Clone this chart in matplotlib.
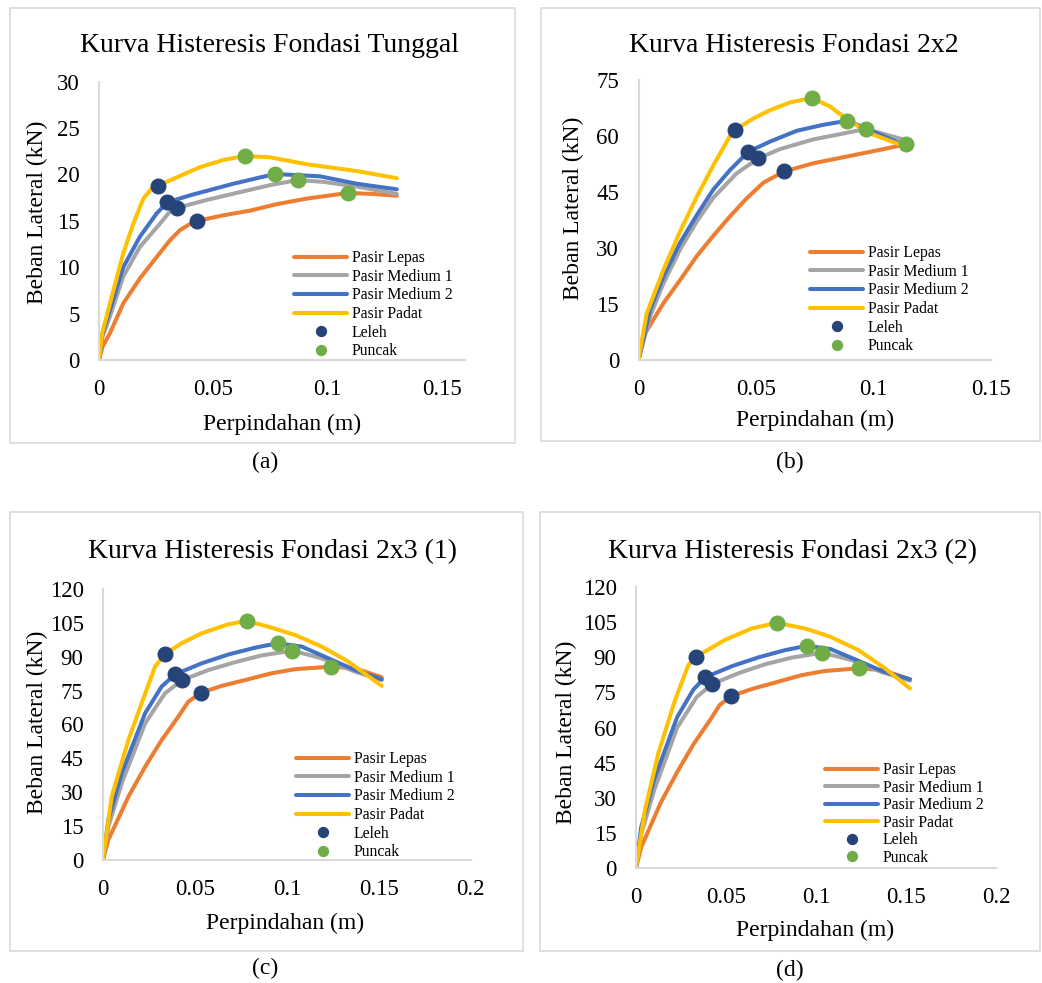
import matplotlib
matplotlib.use("Agg")
import matplotlib.pyplot as plt
from matplotlib.patches import Rectangle

plt.rcParams['font.family'] = ['Liberation Serif', 'DejaVu Serif']

W, H = 1042, 983

series_names = ["Pasir Lepas", "Pasir Medium 1", "Pasir Medium 2", "Pasir Padat"]
marker_names = ["Leleh", "Puncak"]
titles = ["Kurva Histeresis Fondasi Tunggal", "Kurva Histeresis Fondasi 2x2",
          "Kurva Histeresis Fondasi 2x3 (1)", "Kurva Histeresis Fondasi 2x3 (2)"]
captions = ["(a)", "(b)", "(c)", "(d)"]
xlabel = "Perpindahan (m)"
ylabel = "Beban Lateral (kN)"

# ---------- Panel (a) ----------
a_lepas_x = [0, 0.0015, 0.0048, 0.0106, 0.0179, 0.0252, 0.031, 0.0354, 0.0398, 0.043,
             0.0544, 0.066, 0.0777, 0.0908, 0.1087, 0.120, 0.1302]
a_lepas_y = [0, 1.4, 2.9, 6.1, 8.8, 11.1, 12.9, 14.0, 14.66, 15.0,
             15.6, 16.1, 16.8, 17.4, 18.0, 17.9, 17.7]
a_med1_x = [0, 0.0015, 0.0048, 0.0106, 0.0179, 0.0267, 0.031, 0.0342, 0.0471, 0.0617,
            0.0748, 0.0869, 0.0981, 0.1127, 0.1302]
a_med1_y = [0, 2.5, 4.7, 9.0, 12.2, 14.7, 16.0, 16.4, 17.25, 18.1,
            18.85, 19.4, 19.2, 18.7, 17.9]
a_med2_x = [0, 0.0015, 0.0048, 0.0106, 0.0179, 0.0252, 0.0299, 0.0398, 0.0587, 0.069,
            0.077, 0.0966, 0.1127, 0.1302]
a_med2_y = [0, 2.8, 5.4, 10.0, 13.3, 15.8, 17.0, 17.75, 19.0, 19.6,
            20.05, 19.8, 19.0, 18.4]
a_padat_x = [0, 0.0015, 0.0048, 0.0106, 0.015, 0.0194, 0.023, 0.0259, 0.0442, 0.0544,
             0.0638, 0.0748, 0.0908, 0.1127, 0.1302]
a_padat_y = [0, 3.0, 6.1, 11.5, 14.7, 17.4, 18.5, 18.8, 20.8, 21.56,
             22.0, 21.85, 21.1, 20.37, 19.6]
a_leleh_x = [0.043, 0.0342, 0.0299, 0.0259]
a_leleh_y = [15.0, 16.4, 17.0, 18.8]
a_puncak_x = [0.1087, 0.0869, 0.077, 0.0638]
a_puncak_y = [18.0, 19.4, 20.05, 22.0]
a_xticks = [0, 0.05, 0.1, 0.15]
a_xticklabels = ["0", "0.05", "0.1", "0.15"]
a_yticks = [0, 5, 10, 15, 20, 25, 30]

# ---------- Panel (b) ----------
b_lepas_x = [0, 0.002, 0.0106, 0.0177, 0.0248, 0.0319, 0.039, 0.0461, 0.0532, 0.062,
             0.0745, 0.0887, 0.1029, 0.114]
b_lepas_y = [0, 6.3, 15.2, 21.4, 27.8, 33.3, 38.5, 43.3, 47.5, 50.5,
             52.7, 54.5, 56.3, 57.8]
b_med1_x = [0, 0.0049, 0.0106, 0.0177, 0.0248, 0.0319, 0.0418, 0.051, 0.0603, 0.0745,
            0.0859, 0.0969, 0.1058, 0.1148]
b_med1_y = [0, 11.6, 20.5, 29.6, 37.1, 43.5, 50.0, 54.0, 56.5, 59.1,
            60.5, 61.9, 60.3, 58.7]
b_med2_x = [0, 0.0049, 0.0106, 0.0177, 0.0248, 0.0319, 0.039, 0.0468, 0.056, 0.0674,
            0.0787, 0.089, 0.0986, 0.1125]
b_med2_y = [0, 13.4, 22.3, 31.4, 38.8, 45.7, 50.9, 55.8, 58.5, 61.4,
            63.0, 64.1, 61.6, 57.7]
b_padat_x = [0, 0.0035, 0.0106, 0.0177, 0.0248, 0.0319, 0.039, 0.0411, 0.0489, 0.056,
             0.0646, 0.0738, 0.0816, 0.0887, 0.0986, 0.1118]
b_padat_y = [0, 12.5, 24.1, 34.4, 43.7, 52.2, 60.0, 61.6, 64.7, 66.9,
             69.0, 70.2, 67.9, 64.5, 60.7, 57.6]
b_leleh_x = [0.062, 0.051, 0.0468, 0.0411]
b_leleh_y = [50.5, 54.0, 55.8, 61.6]
b_puncak_x = [0.114, 0.0969, 0.089, 0.0738]
b_puncak_y = [57.8, 61.9, 64.1, 70.2]
b_xticks = [0, 0.05, 0.1, 0.15]
b_xticklabels = ["0", "0.05", "0.1", "0.15"]
b_yticks = [0, 15, 30, 45, 60, 75]

# ---------- Panel (c) ----------
c_lepas_x = [0, 0.0029, 0.0138, 0.0229, 0.0319, 0.041, 0.0464, 0.0533, 0.0646, 0.0773,
             0.0918, 0.1045, 0.124, 0.1371, 0.1516]
c_lepas_y = [0, 8.9, 28.0, 41.3, 53.1, 63.5, 70.1, 74.1, 77.1, 79.7,
             82.7, 84.5, 85.6, 84.9, 80.9]
c_med1_x = [0, 0.0029, 0.0102, 0.0229, 0.0337, 0.0431, 0.0573, 0.0718, 0.0863, 0.103,
            0.119, 0.1371, 0.1516]
c_med1_y = [0, 14.7, 34.0, 60.5, 73.8, 79.7, 84.1, 87.6, 90.6, 92.7,
            89.3, 83.4, 79.7]
c_med2_x = [0, 0.0029, 0.0102, 0.0229, 0.0319, 0.0392, 0.0537, 0.0682, 0.0827, 0.095,
            0.1081, 0.1226, 0.1371, 0.1516]
c_med2_y = [0, 17.7, 38.4, 65.0, 76.8, 82.2, 87.1, 91.0, 94.0, 96.0,
            94.5, 89.3, 84.1, 80.0]
c_padat_x = [0, 0.0047, 0.0138, 0.021, 0.0283, 0.0337, 0.0428, 0.0537, 0.0682, 0.0782,
             0.09, 0.1045, 0.119, 0.1335, 0.1516]
c_padat_y = [0, 28.0, 53.1, 69.4, 85.6, 91.2, 96.0, 100.4, 104.4, 105.8,
             103.3, 99.6, 94.5, 87.8, 77.1]
c_leleh_x = [0.0533, 0.0431, 0.0392, 0.0337]
c_leleh_y = [74.1, 79.7, 82.2, 91.2]
c_puncak_x = [0.124, 0.103, 0.095, 0.0782]
c_puncak_y = [85.6, 92.7, 96.0, 105.8]
c_xticks = [0, 0.05, 0.1, 0.15, 0.2]
c_xticklabels = ["0", "0.05", "0.1", "0.15", "0.2"]
c_yticks = [0, 15, 30, 45, 60, 75, 90, 105, 120]

# ---------- Panel (d) ----------
d_lepas_x = [0, 0.0029, 0.0138, 0.0229, 0.0319, 0.041, 0.0464, 0.0528, 0.0646, 0.0773,
             0.0918, 0.1045, 0.124, 0.1371, 0.1522]
d_lepas_y = [0, 8.9, 28.0, 41.0, 52.8, 63.0, 69.5, 73.4, 76.5, 79.2,
             82.3, 84.1, 85.3, 84.5, 80.6]
d_med1_x = [0, 0.0029, 0.0102, 0.0229, 0.0337, 0.0424, 0.0573, 0.0718, 0.0863, 0.1032,
            0.119, 0.1371, 0.1522]
d_med1_y = [0, 14.5, 33.5, 60.0, 73.0, 78.6, 83.3, 87.0, 89.8, 91.9,
            89.0, 83.5, 80.0]
d_med2_x = [0, 0.0029, 0.0102, 0.0229, 0.0319, 0.0383, 0.0537, 0.0682, 0.0827, 0.0948,
            0.1081, 0.1226, 0.1371, 0.1522]
d_med2_y = [0, 17.5, 38.0, 64.5, 76.2, 81.4, 86.3, 90.0, 93.0, 94.9,
            93.5, 88.8, 84.0, 80.6]
d_padat_x = [0, 0.005, 0.0124, 0.0217, 0.0291, 0.0333, 0.0494, 0.0643, 0.0782, 0.0939,
             0.1078, 0.1235, 0.1383, 0.1522]
d_padat_y = [0, 24.8, 49.0, 71.7, 86.7, 90.2, 97.4, 102.3, 104.7, 102.3,
             98.8, 93.1, 85.3, 76.7]
d_leleh_x = [0.0528, 0.0424, 0.0383, 0.0333]
d_leleh_y = [73.4, 78.6, 81.4, 90.2]
d_puncak_x = [0.124, 0.1032, 0.0948, 0.0782]
d_puncak_y = [85.3, 91.9, 94.9, 104.7]
d_xticks = [0, 0.05, 0.1, 0.15, 0.2]
d_xticklabels = ["0", "0.05", "0.1", "0.15", "0.2"]
d_yticks = [0, 15, 30, 45, 60, 75, 90, 105, 120]

line_colors = ["#ED7D31", "#A5A5A5", "#4472C4", "#FFC000"]
leleh_color = "#264478"
puncak_color = "#70AD47"
frame_color = "#d9d9d9"

fig = plt.figure(figsize=(W / 100, H / 100), dpi=100)


def px_axes(left, top, right, bottom):
    return fig.add_axes([left / W, 1 - bottom / H, (right - left) / W, (bottom - top) / H])


panels = [
    dict(ax=(99, 81.7, 465, 360), box=(10, 8, 515, 443), xlim=0.16, ylim=30,
         lines=[(a_lepas_x, a_lepas_y), (a_med1_x, a_med1_y), (a_med2_x, a_med2_y), (a_padat_x, a_padat_y)],
         leleh=(a_leleh_x, a_leleh_y), puncak=(a_puncak_x, a_puncak_y),
         xt=a_xticks, xtl=a_xticklabels, yt=a_yticks,
         title=(270, 45), cap=(265, 462), leg=(294, 250), ylab=(37, 212), xlab=(282, 424), ls=0.17),
    dict(ax=(638.5, 80, 990.7, 360), box=(541, 8, 1040, 441), xlim=0.15, ylim=75,
         lines=[(b_lepas_x, b_lepas_y), (b_med1_x, b_med1_y), (b_med2_x, b_med2_y), (b_padat_x, b_padat_y)],
         leleh=(b_leleh_x, b_leleh_y), puncak=(b_puncak_x, b_puncak_y),
         xt=b_xticks, xtl=b_xticklabels, yt=b_yticks,
         title=(794, 45), cap=(790, 462), leg=(810, 245), ylab=(573, 208), xlab=(815, 420), ls=0.17),
    dict(ax=(103, 589, 470.7, 860), box=(10, 512, 523, 951), xlim=0.2, ylim=120,
         lines=[(c_lepas_x, c_lepas_y), (c_med1_x, c_med1_y), (c_med2_x, c_med2_y), (c_padat_x, c_padat_y)],
         leleh=(c_leleh_x, c_leleh_y), puncak=(c_puncak_x, c_puncak_y),
         xt=c_xticks, xtl=c_xticklabels, yt=c_yticks,
         title=(272, 552), cap=(265, 968), leg=(296, 751), ylab=(37, 722), xlab=(285, 923), ls=0.17),
    dict(ax=(636, 587, 996, 868), box=(540, 512, 1040, 951), xlim=0.2, ylim=120,
         lines=[(d_lepas_x, d_lepas_y), (d_med1_x, d_med1_y), (d_med2_x, d_med2_y), (d_padat_x, d_padat_y)],
         leleh=(d_leleh_x, d_leleh_y), puncak=(d_puncak_x, d_puncak_y),
         xt=d_xticks, xtl=d_xticklabels, yt=d_yticks,
         title=(792, 552), cap=(790, 970), leg=(825, 762), ylab=(566, 732), xlab=(815, 930), ls=0.10),
]

for i, p in enumerate(panels):
    bx0, by0, bx1, by1 = p["box"]
    fig.add_artist(Rectangle((bx0 / W, 1 - by1 / H), (bx1 - bx0) / W, (by1 - by0) / H,
                             transform=fig.transFigure, fill=False,
                             edgecolor=frame_color, linewidth=1.2))
    L, T, R, B = p["ax"]
    ax = px_axes(L, T, R, B)
    handles = []
    for (xs, ys), c, name in zip(p["lines"], line_colors, series_names):
        h, = ax.plot(xs, ys, color=c, lw=2.9, solid_capstyle="round",
                     solid_joinstyle="round", label=name)
        handles.append(h)
    h, = ax.plot(*p["leleh"], ls="none", marker="o", ms=10.5, color=leleh_color,
                 mec=leleh_color, label=marker_names[0], zorder=5)
    handles.append(h)
    h, = ax.plot(*p["puncak"], ls="none", marker="o", ms=10.5, color=puncak_color,
                 mec=puncak_color, label=marker_names[1], zorder=5)
    handles.append(h)

    ax.set_xlim(0, p["xlim"])
    ax.set_ylim(0, p["ylim"])
    ax.set_xticks(p["xt"])
    ax.set_xticklabels(p["xtl"])
    ax.set_yticks(p["yt"])
    ax.tick_params(length=0, labelsize=16.5, pad=14)
    for s in ["top", "right"]:
        ax.spines[s].set_visible(False)
    for s in ["left", "bottom"]:
        ax.spines[s].set_color(frame_color)
        ax.spines[s].set_linewidth(1.5)
    ax.set_xlabel(xlabel, fontsize=17)
    ax.set_ylabel(ylabel, fontsize=17)
    xl = p["xlab"]
    ax.xaxis.set_label_coords((xl[0] - L) / (R - L), (B - xl[1]) / (B - T))
    ax.xaxis.label.set_va("center")
    yl = p["ylab"]
    ax.yaxis.set_label_coords((yl[0] - L) / (R - L), (B - yl[1]) / (B - T))
    ax.yaxis.label.set_va("center")

    fig.text(p["title"][0] / W, 1 - p["title"][1] / H, titles[i], fontsize=20,
             ha="center", va="center")
    fig.text(p["cap"][0] / W, 1 - p["cap"][1] / H, captions[i], fontsize=17,
             ha="center", va="center")

    ax.legend(handles=handles, loc="upper left",
              bbox_to_anchor=(p["leg"][0] / W, 1 - p["leg"][1] / H),
              bbox_transform=fig.transFigure, frameon=False, fontsize=11.3,
              handlelength=3.4, handletextpad=0.3, labelspacing=p["ls"],
              borderpad=0, borderaxespad=0, markerscale=0.68)

fig.savefig("out.png", dpi=100)
